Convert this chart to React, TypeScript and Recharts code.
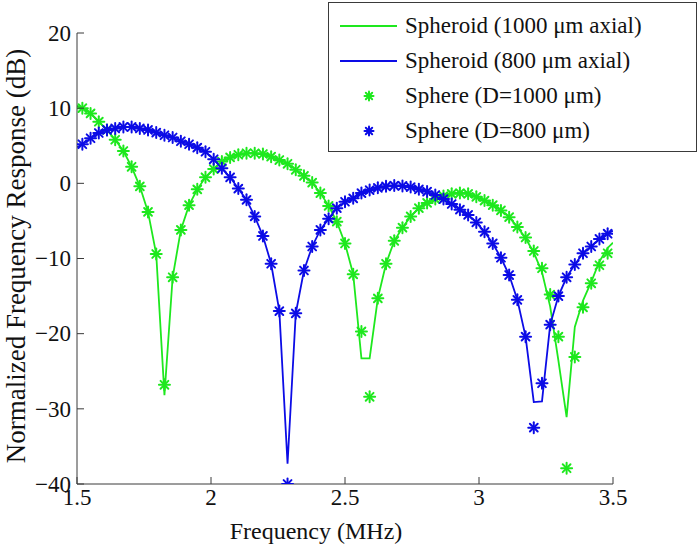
import { ComposedChart, Line, XAxis, YAxis, Legend } from 'recharts';

// sample grid of the sphere model (MHz)
const FREQ = [
  1.52, 1.5506, 1.5813, 1.6119, 1.6425, 1.6731, 1.7038, 1.7344, 1.765, 1.7956,
  1.8263, 1.8569, 1.8875, 1.9181, 1.9488, 1.9794, 2.01, 2.0406, 2.0713, 2.1019,
  2.1325, 2.1631, 2.1938, 2.2244, 2.255, 2.2856, 2.3163, 2.3469, 2.3775, 2.4081,
  2.4388, 2.4694, 2.5, 2.5306, 2.5613, 2.5919, 2.6225, 2.6531, 2.6838, 2.7144,
  2.745, 2.7756, 2.8063, 2.8369, 2.8675, 2.8981, 2.9288, 2.9594, 2.99, 3.0206,
  3.0513, 3.0819, 3.1125, 3.1431, 3.1738, 3.2044, 3.235, 3.2656, 3.2963, 3.3269,
  3.3575, 3.3881, 3.4188, 3.4494, 3.48,
];

const SPHERE_1000 = [
  10.0, 9.3, 8.2, 7.1, 5.8, 4.3, 2.2, -0.4, -3.8, -9.4,
  -26.8, -12.5, -6.2, -2.9, -0.8, 0.8, 1.9, 2.9, 3.45, 3.8,
  4.0, 4.0, 3.9, 3.55, 3.1, 2.6, 1.8, 1.0, 0.1, -1.3,
  -3.0, -5.1, -8.0, -12.1, -19.7, -28.4, -15.3, -10.7, -7.65, -5.9,
  -4.4, -3.3, -2.6, -2.1, -1.7, -1.4, -1.3, -1.4, -1.8, -2.3,
  -2.9, -3.6, -4.5, -5.8, -7.2, -9.0, -11.3, -14.8, -20.4, -37.9,
  -23.1, -16.5, -13.3, -10.9, -9.3,
];

const SPHERE_800 = [
  5.2, 6.0, 6.7, 7.1, 7.3, 7.5, 7.5, 7.3, 7.1, 6.75,
  6.4, 6.1, 5.6, 5.2, 4.75, 4.2, 3.2, 2.0, 0.8, -0.7,
  -2.2, -4.4, -7.0, -10.7, -17.0, -40.0, -17.3, -11.6, -8.4, -6.2,
  -4.7, -3.3, -2.45, -2.0, -1.3, -0.9, -0.6, -0.4, -0.3, -0.35,
  -0.5, -0.8, -1.1, -1.55, -2.1, -2.75, -3.5, -4.2, -5.2, -6.45,
  -8.0, -9.9, -12.2, -15.5, -20.4, -32.5, -26.6, -18.8, -15.0, -12.5,
  -10.8, -9.3, -8.4, -7.4, -6.7,
];

// spheroid curves run over the full axis range
const LINE_FREQ = [1.5, ...FREQ, 3.5];

const SPHEROID_1000 = [
  10.3,
  10.0, 9.3, 8.2, 7.1, 5.8, 4.3, 2.2, -0.4, -3.8, -9.4,
  -28.2, -12.5, -6.2, -2.9, -0.8, 0.8, 1.9, 2.9, 3.45, 3.8,
  4.0, 4.0, 3.9, 3.55, 3.1, 2.6, 1.8, 1.0, 0.1, -1.3,
  -3.0, -5.1, -8.0, -12.1, -23.3, -23.3, -15.3, -10.7, -7.65, -5.9,
  -4.4, -3.3, -2.6, -2.1, -1.7, -1.4, -1.3, -1.4, -1.8, -2.3,
  -2.9, -3.6, -4.5, -5.8, -7.3, -9.2, -11.8, -16.4, -23.6, -31.1,
  -19.1, -15.6, -13.1, -10.4, -8.6,
  -7.9,
];

const SPHEROID_800 = [
  4.8,
  5.2, 6.0, 6.7, 7.1, 7.3, 7.5, 7.5, 7.3, 7.1, 6.75,
  6.4, 6.1, 5.6, 5.2, 4.75, 4.2, 3.2, 2.0, 0.8, -0.7,
  -2.2, -4.4, -7.0, -10.7, -17.0, -37.3, -17.3, -11.6, -8.4, -6.2,
  -4.7, -3.3, -2.45, -2.0, -1.3, -0.9, -0.6, -0.4, -0.3, -0.35,
  -0.5, -0.8, -1.1, -1.55, -2.1, -2.75, -3.5, -4.2, -5.2, -6.45,
  -8.0, -9.9, -12.2, -15.5, -20.4, -29.1, -29.0, -18.8, -15.0, -12.5,
  -10.8, -9.3, -8.4, -7.4, -6.7,
  -6.3,
];

const X_TICKS = [1.5, 2, 2.5, 3, 3.5];
const Y_TICKS = [-40, -30, -20, -10, 0, 10, 20];

const GREEN = '#1ee81e';
const BLUE = '#0c0ce6';
const AXIS = '#3a3a3a';
const FONT = '"Liberation Serif", "Times New Roman", serif';

const sphereRows = FREQ.map((f, i) => ({ f, s1000: SPHERE_1000[i], s800: SPHERE_800[i] }));
const lineRows = LINE_FREQ.map((f, i) => ({ f, p1000: SPHEROID_1000[i], p800: SPHEROID_800[i] }));

const fmt = (v: number) => String(v).replace('-', '\u2212');

function Asterisk({ cx, cy, r, color, w = 2 }: { cx: number; cy: number; r: number; color: string; w?: number }) {
  const d = r * 0.7071;
  return (
    <g stroke={color} strokeWidth={w} strokeLinecap="round">
      <line x1={cx - r} y1={cy} x2={cx + r} y2={cy} />
      <line x1={cx} y1={cy - r} x2={cx} y2={cy + r} />
      <line x1={cx - d} y1={cy - d} x2={cx + d} y2={cy + d} />
      <line x1={cx - d} y1={cy + d} x2={cx + d} y2={cy - d} />
    </g>
  );
}

const starDot = (color: string) => (p: any) => {
  if (p.cy == null || p.value == null) return <g key={p.index} />;
  return <Asterisk key={p.index} cx={p.cx} cy={p.cy} r={5.5} color={color} />;
};

function XTick({ x, y, payload }: any) {
  return (
    <g>
      <line x1={x} y1={484} x2={x} y2={477} stroke={AXIS} />
      <text x={x} y={y} dy="0.71em" textAnchor="middle" fontFamily={FONT} fontSize={23} fill="#111">
        {fmt(payload.value)}
      </text>
    </g>
  );
}

function YTick({ x, y, payload }: any) {
  return (
    <g>
      <line x1={77} y1={y} x2={84} y2={y} stroke={AXIS} />
      <text x={x} y={y} dy="0.34em" textAnchor="end" fontFamily={FONT} fontSize={23} fill="#111">
        {fmt(payload.value)}
      </text>
    </g>
  );
}

const LEGEND_ITEMS = [
  { label: 'Spheroid (1000 \u03bcm axial)', color: GREEN, kind: 'line' },
  { label: 'Spheroid (800 \u03bcm axial)', color: BLUE, kind: 'line' },
  { label: 'Sphere (D=1000 \u03bcm)', color: GREEN, kind: 'star' },
  { label: 'Sphere (D=800 \u03bcm)', color: BLUE, kind: 'star' },
];

function LegendBox() {
  return (
    <div
      style={{
        boxSizing: 'border-box', width: 369, height: 150, border: `1px solid ${AXIS}`,
        background: '#fff', paddingTop: 5, fontFamily: FONT, fontSize: 23, color: '#111',
      }}
    >
      {LEGEND_ITEMS.map(it => (
        <div key={it.label} style={{ display: 'flex', alignItems: 'center', height: 35 }}>
          <svg width={76} height={20} style={{ flex: 'none' }}>
            {it.kind === 'line'
              ? <line x1={11} y1={10} x2={68} y2={10} stroke={it.color} strokeWidth={2} />
              : <Asterisk cx={40} cy={10} r={4.5} color={it.color} />}
          </svg>
          <span style={{ whiteSpace: 'nowrap' }}>{it.label}</span>
        </div>
      ))}
    </div>
  );
}

export default function App() {
  return (
    <div style={{ position: 'absolute', left: 0, top: 0, width: 699, height: 545, background: '#fff' }}>
      <ComposedChart width={699} height={545} margin={{ top: 33, right: 86, left: 0, bottom: 0 }}>
        <XAxis
          dataKey="f"
          type="number"
          domain={[1.5, 3.5]}
          ticks={X_TICKS}
          allowDataOverflow
          height={61}
          tickSize={0}
          tickMargin={5}
          tickLine={false}
          axisLine={{ stroke: AXIS }}
          tick={<XTick />}
          label={{
            value: 'Frequency (MHz)',
            content: () => (
              <text x={316} y={539} textAnchor="middle" fontFamily={FONT} fontSize={24} fill="#111">
                Frequency (MHz)
              </text>
            ),
          }}
        />
        <YAxis
          type="number"
          domain={[-40, 20]}
          ticks={Y_TICKS}
          allowDataOverflow
          width={77}
          tickSize={0}
          tickMargin={6}
          tickLine={false}
          axisLine={{ stroke: AXIS }}
          tick={<YTick />}
          label={{
            value: 'Normalized Frequency Response (dB)',
            content: () => (
              <text transform="translate(24.5,256) rotate(-90)" textAnchor="middle" fontFamily={FONT} fontSize={27} fill="#111">
                Normalized Frequency Response (dB)
              </text>
            ),
          }}
        />
        <Legend
          layout="vertical"
          align="center"
          verticalAlign="middle"
          wrapperStyle={{ top: 2, left: 328, width: 369 }}
          content={<LegendBox />}
        />
        <Line data={lineRows} dataKey="p1000" stroke={GREEN} strokeWidth={1.8} dot={false} activeDot={false} isAnimationActive={false} />
        <Line data={lineRows} dataKey="p800" stroke={BLUE} strokeWidth={1.8} dot={false} activeDot={false} isAnimationActive={false} />
        <Line data={sphereRows} dataKey="s1000" stroke="none" dot={starDot(GREEN)} activeDot={false} isAnimationActive={false} />
        <Line data={sphereRows} dataKey="s800" stroke="none" dot={starDot(BLUE)} activeDot={false} isAnimationActive={false} />
      </ComposedChart>
    </div>
  );
}
